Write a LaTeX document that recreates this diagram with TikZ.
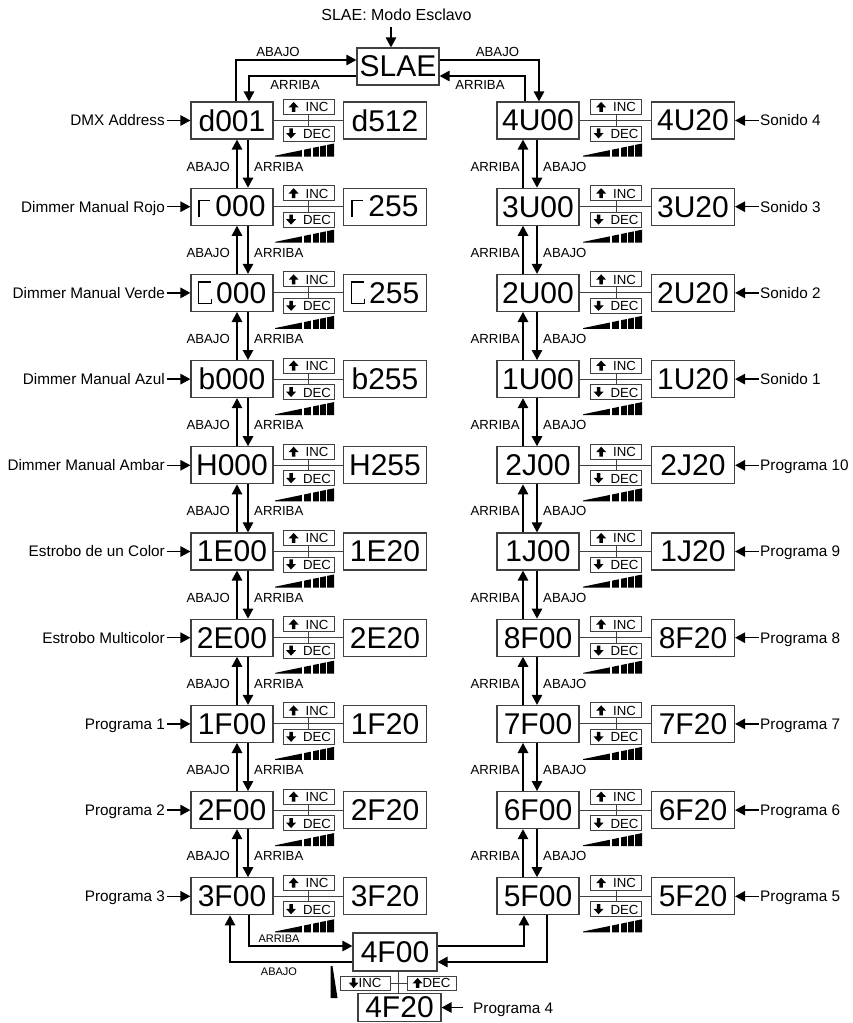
\documentclass[tikz,border=0pt]{standalone}
\usepackage{fontspec}
\setmainfont{Liberation Sans}
\usepackage{xcolor}
\definecolor{boxgray}{RGB}{64,64,64}
\usetikzlibrary{arrows.meta, positioning, calc}

% seven-segment style glyphs and key arrows
\newcommand{\segr}{\tikz[baseline=0pt]\draw[line width=1.5pt] (0pt,0pt) -- (0pt,16.5pt) -- (10.5pt,16.5pt);\hspace{5pt}}
\newcommand{\segg}{\tikz[baseline=0pt]\draw[line width=1.5pt] (13pt,5pt) -- (13pt,0pt) -- (0pt,0pt) -- (0pt,21.5pt) -- (13pt,21.5pt);\hspace{4pt}}
\newcommand{\upglyph}{\tikz[baseline=0pt]\fill (-1.8pt,0pt) rectangle (1.8pt,4.8pt) (-5pt,4.6pt) -- (5pt,4.6pt) -- (0pt,10pt) -- cycle;}
\newcommand{\downglyph}{\tikz[baseline=0pt]\fill (-1.8pt,10pt) rectangle (1.8pt,5.2pt) (-5pt,5.4pt) -- (5pt,5.4pt) -- (0pt,0pt) -- cycle;}

\tikzset{
  disp/.style={draw=boxgray, line width=1.2pt, minimum width=82pt, minimum height=37pt,
    inner sep=0pt, font=\fontsize{30}{30}\selectfont},
  valdisp/.style={disp, minimum width=83pt},
  keybox/.style={draw=boxgray, line width=1pt, minimum width=51pt, minimum height=15pt,
    inner sep=0pt, font=\fontsize{13.2}{13.2}\selectfont},
  navlbl/.style={font=\fontsize{13.2}{13.2}\selectfont, inner sep=0pt},
  sidelbl/.style={font=\fontsize{15.3}{15.3}\selectfont, inner xsep=1.5pt, inner ysep=0pt},
  flow/.style={line width=1.3pt, -{Triangle[length=10pt, width=10.5pt]}},
  wire/.style={draw=boxgray, line width=1pt},
  ramp/.pic={
    \fill (0,0) -- (0,-0.8) -- (59,-13) -- (59,0) -- cycle;
    \foreach \g in {28,37,44.5,51.5} \draw[white, line width=1.4pt] (\g,1) -- (\g,-14);
  }
}

\begin{document}
\begin{tikzpicture}[x=1pt, y=-1pt]
  \clip (0,0) rectangle (853,1023);

  % --- Entry: slave mode ---
  \node[font=\fontsize{16}{16}\selectfont, inner sep=0pt] (title) at (396.5,15) {SLAE: Modo Esclavo};
  \node[disp] (slae) at (398,66.5) {SLAE};
  \coordinate (topin) at (391,27);
  \draw[flow] (topin) -- (topin |- slae.north);

  % --- Left column ---
  \foreach \a/\b/\lab [count=\i] in {
    d001/d512/DMX Address,
    \segr000/\segr255/Dimmer Manual Rojo,
    \segg000/\segg255/Dimmer Manual Verde,
    b000/b255/Dimmer Manual Azul,
    H000/H255/Dimmer Manual Ambar,
    1E00/1E20/Estrobo de un Color,
    2E00/2E20/Estrobo Multicolor,
    1F00/1F20/Programa 1,
    2F00/2F20/Programa 2,
    3F00/3F20/Programa 3} {
    \pgfmathsetmacro{\yy}{120.5+86.2*(\i-1)}
    \node[disp] (L\i) at (232,\yy) {\a};
    \node[valdisp] (LV\i) at (385,\yy) {\b};
    \node[keybox] (Linc\i) at (308.5,\yy-13.5) {\upglyph\hspace{7pt}INC};
    \node[keybox] (Ldec\i) at (308.5,\yy+13) {\downglyph\hspace{7pt}DEC};
    \draw[wire] (L\i.east) -- (LV\i.west);
    \draw[wire] (Linc\i.south) -- (Ldec\i.north);
    \pic at (275,\yy+36) {ramp};
    \node[sidelbl, anchor=base east] (Llab\i) at (166.5,\yy+5.4) {\lab};
    \draw[flow] (Llab\i.east |- L\i.west) -- (L\i.west);
  }

  % --- Right column ---
  \foreach \a/\b/\lab [count=\i] in {
    4U00/4U20/Sonido 4,
    3U00/3U20/Sonido 3,
    2U00/2U20/Sonido 2,
    1U00/1U20/Sonido 1,
    2J00/2J20/Programa 10,
    1J00/1J20/Programa 9,
    8F00/8F20/Programa 8,
    7F00/7F20/Programa 7,
    6F00/6F20/Programa 6,
    5F00/5F20/Programa 5} {
    \pgfmathsetmacro{\yy}{120.5+86.2*(\i-1)}
    \node[disp] (R\i) at (538,\yy) {\a};
    \node[valdisp] (RV\i) at (693,\yy) {\b};
    \node[keybox] (Rinc\i) at (616,\yy-13.5) {\upglyph\hspace{7pt}INC};
    \node[keybox] (Rdec\i) at (616,\yy+13) {\downglyph\hspace{7pt}DEC};
    \draw[wire] (R\i.east) -- (RV\i.west);
    \draw[wire] (Rinc\i.south) -- (Rdec\i.north);
    \pic at (583,\yy+36) {ramp};
    \node[sidelbl, anchor=base west] (Rlab\i) at (758.5,\yy+5.4) {\lab};
    \draw[flow] (Rlab\i.west |- RV\i.east) -- (RV\i.east);
  }

  % --- Up / down between rows ---
  \foreach \i in {1,...,9} {
    \pgfmathtruncatemacro{\j}{\i+1}
    \pgfmathsetmacro{\ym}{120.5+86.2*(\i-0.5)+3}
    \draw[flow] ([xshift=5pt]L\j.north) -- ([xshift=5pt]L\i.south);
    \draw[flow] ([xshift=16pt]L\i.south) -- ([xshift=16pt]L\j.north);
    \node[navlbl, anchor=east] (Lab\i) at (230,\ym) {ABAJO};
    \node[navlbl, anchor=west] (Lar\i) at (254,\ym) {ARRIBA};
    \draw[flow] ([xshift=-15pt]R\j.north) -- ([xshift=-15pt]R\i.south);
    \draw[flow] ([xshift=-1pt]R\i.south) -- ([xshift=-1pt]R\j.north);
    \node[navlbl, anchor=east] (Rar\i) at (520,\ym) {ARRIBA};
    \node[navlbl, anchor=west] (Rab\i) at (543,\ym) {ABAJO};
  }

  % --- Links to SLAE ---
  \draw[flow] ([xshift=4pt]L1.north) |- ([yshift=6.5pt]slae.west);
  \draw[flow] ([yshift=-9.5pt]slae.west) -| ([xshift=17pt]L1.north);
  \draw[flow] ([yshift=6.5pt]slae.east) -| ([xshift=1pt]R1.north);
  \draw[flow] ([xshift=-13pt]R1.north) |- ([yshift=-9.5pt]slae.east);
  \node[navlbl] (tab1) at (278,52) {ABAJO};
  \node[navlbl] (tar1) at (295,85) {ARRIBA};
  \node[navlbl] (tab2) at (497.5,52) {ABAJO};
  \node[navlbl] (tar2) at (480,85) {ARRIBA};

  % --- Bottom: Programa 4 ---
  \node[disp, minimum width=84pt, minimum height=38pt] (f400) at (395,952) {4F00};
  \node[disp, minimum width=83pt, minimum height=27.5pt] (f420) at (399.5,1007.5) {4F20};
  \draw[flow] ([xshift=17pt]L10.south) |- ([yshift=6pt]f400.west);
  \draw[flow] ([yshift=-10pt]f400.west) -| ([xshift=-2pt]L10.south);
  \draw[flow] ([yshift=6pt]f400.east) -| ([xshift=-14pt]R10.south);
  \draw[flow] ([xshift=9pt]R10.south) |- ([yshift=-10pt]f400.east);
  \node[navlbl, font=\fontsize{11}{11}\selectfont] (bar) at (279,939) {ARRIBA};
  \node[navlbl, font=\fontsize{11}{11}\selectfont] (bab) at (279,972) {ABAJO};
  \node[keybox, minimum width=50pt, minimum height=14pt] (binc) at (365,983) {\downglyph INC};
  \node[keybox, minimum width=49pt, minimum height=14pt] (bdec) at (431.5,983) {\upglyph DEC};
  \draw[wire] ([xshift=3pt]f400.south) -- ([xshift=3pt]f400.south |- f420.north);
  \draw[wire] (binc.east) -- (bdec.west);
  \fill (330.5,998) -- (337.5,998) -- (332.5,966) -- (330.5,966) -- cycle;
  \node[sidelbl, anchor=base west, inner xsep=10pt] (p4lab) at (463,1013) {Programa 4};
  \draw[flow] (p4lab.west |- f420.east) -- (f420.east);
\end{tikzpicture}
\end{document}
